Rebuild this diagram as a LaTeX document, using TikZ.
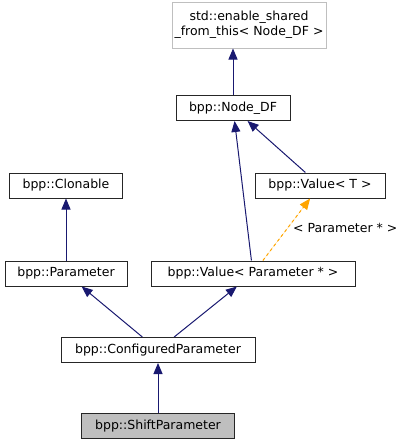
\documentclass[tikz,border=0pt]{standalone}
\usepackage{fontspec}
\setmainfont{DejaVu Sans}
\usetikzlibrary{arrows.meta}
\definecolor{doxyblue}{RGB}{25,25,112}
\definecolor{doxyorange}{RGB}{255,165,0}
\definecolor{doxygrey}{RGB}{191,191,191}

\begin{document}
\begin{tikzpicture}[x=1pt,y=-1pt]

%
% Styles
%
\tikzstyle{class}    = [draw=black!85,line width=1pt,minimum height=25pt,inner sep=0pt,font=\fontsize{12.5}{15}\selectfont]
\tikzstyle{extclass} = [class,draw=doxygrey,align=center]
\tikzstyle{current}  = [class,fill=doxygrey]
\tikzstyle{inherit}  = [-{Triangle[length=11pt,width=9pt]},draw=doxyblue,line width=1pt]
\tikzstyle{templ}    = [-{Triangle[length=11pt,width=9pt]},draw=doxyorange,fill=doxyorange,line width=1pt,dashed]
\tikzstyle{tlabel}   = [anchor=west,inner sep=0pt,font=\fontsize{12.5}{15}\selectfont]

\useasboundingbox (0,0) rectangle (408,445);

\node[extclass,minimum width=154pt,minimum height=46pt] (esft) at (249,25) {std::enable\_shared\\\_from\_this< Node\_DF >};
\node[class,minimum width=114pt] (nodedf)   at (233,108)   {bpp::Node\_DF};
\node[class,minimum width=113pt] (clonable) at (66,185.5)  {bpp::Clonable};
\node[class,minimum width=130pt] (valuet)   at (320,185.5) {bpp::Value< T >};
\node[class,minimum width=122pt] (param)    at (66,273.5)  {bpp::Parameter};
\node[class,minimum width=204pt] (valuep)   at (253,273.5) {bpp::Value< Parameter * >};
\node[class,minimum width=194pt] (confp)    at (158,350)   {bpp::ConfiguredParameter};
\node[current,minimum width=153pt] (shiftp) at (158,426)   {bpp::ShiftParameter};

\draw[inherit] (nodedf) -- (nodedf |- esft.south);
\draw[inherit] (valuet) -- (nodedf);
\draw[inherit] (valuep) -- (nodedf);
\draw[inherit] (param)  -- (clonable);
\draw[templ]   (valuep) -- (valuet);
\draw[inherit] (confp)  -- (param);
\draw[inherit] (confp)  -- (valuep);
\draw[inherit] (shiftp) -- (confp);

\node[tlabel] (tparam) at (293,228) {< Parameter * >};

\end{tikzpicture}
\end{document}
